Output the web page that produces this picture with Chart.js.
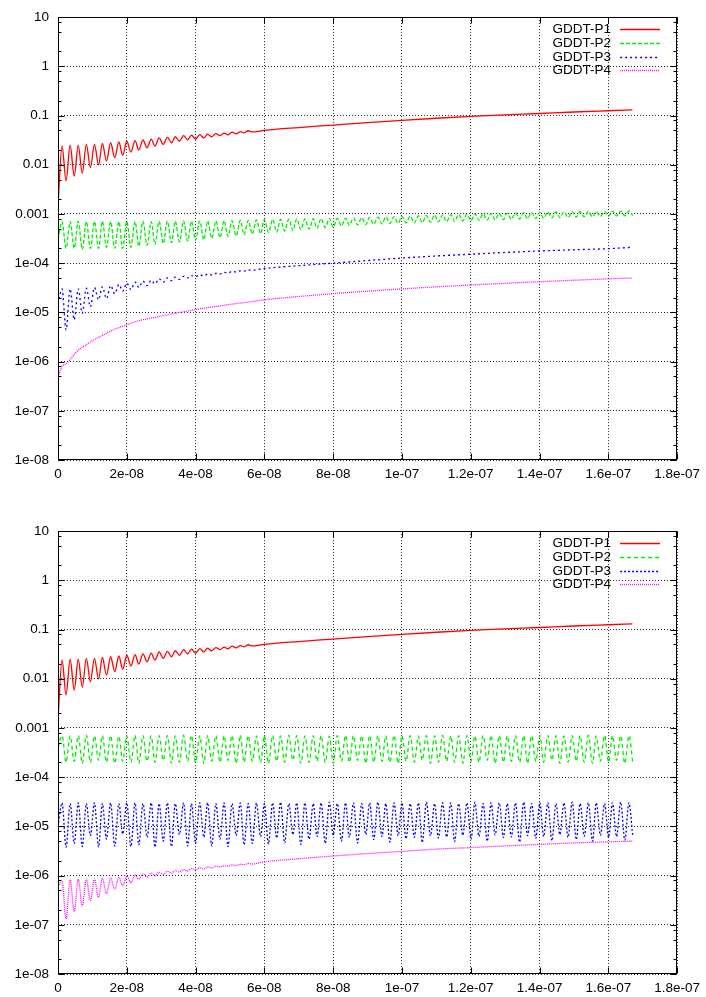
<!DOCTYPE html>
<html>
<head>
<meta charset="utf-8">
<script src="https://cdn.jsdelivr.net/npm/chart.js@4.4.0/dist/chart.umd.min.js"></script>
<style>
    html, body { margin: 0; padding: 0; background: #fff; overflow: hidden; }
    #page { position: relative; width: 706px; height: 997px; overflow: hidden; }
    canvas { position: absolute; left: 0; }
    #topChart { top: 0; }
    #bottomChart { top: 514px; }
</style>
</head>
<body>
<div id="page">
    <canvas id="topChart" width="706" height="490"></canvas>
    <canvas id="bottomChart" width="706" height="490"></canvas>
</div>
<script>
// axis ticks (x in ns)
const xTickValues = [0, 20, 40, 60, 80, 100, 120, 140, 160, 180];
const xTickLabels = ['0', '2e-08', '4e-08', '6e-08', '8e-08', '1e-07', '1.2e-07', '1.4e-07', '1.6e-07', '1.8e-07'];
const yTickValues = [1e-8, 1e-7, 1e-6, 1e-5, 1e-4, 1e-3, 1e-2, 1e-1, 1, 10];
const yTickLabels = ['1e-08', '1e-07', '1e-06', '1e-05', '1e-04', '0.001', '0.01', '0.1', '1', '10'];
const yMinorSteps = [2, 5, 8];
const seriesNames = ['GDDT-P1', 'GDDT-P2', 'GDDT-P3', 'GDDT-P4'];

// times of the read-off extremes (ns), troughs and crests alternate
const tExt = [
    0, 1.18, 2.35, 3.53, 4.71, 5.89, 7.06, 8.24, 9.42, 10.6,
    11.8, 12.9, 14.1, 15.3, 16.5, 17.7, 18.8, 20.0, 21.2, 22.4,
    23.5, 24.7, 25.9, 27.1, 28.2, 29.4, 30.6, 31.8, 33.0, 34.1,
    35.3, 36.5, 37.7, 38.8, 40.0, 41.2, 42.4, 43.5, 44.7, 45.9,
    47.1, 48.3, 49.4, 50.6, 51.8, 53.0, 54.1, 55.3, 56.5, 57.7,
    58.9, 60.0, 61.2, 62.4, 63.6, 64.7, 65.9, 67.1, 68.3, 69.4,
    70.6, 71.8, 73.0, 74.2, 75.3, 76.5, 77.7, 78.9, 80.0, 81.2,
    82.4, 83.6, 84.7, 85.9, 87.1, 88.3, 89.5, 90.6, 91.8, 93.0,
    94.2, 95.3, 96.5, 97.7, 98.9, 100.0, 101.2, 102.4, 103.6, 104.8,
    105.9, 107.1, 108.3, 109.5, 110.6, 111.8, 113.0, 114.2, 115.3, 116.5,
    117.7, 118.9, 120.1, 121.2, 122.4, 123.6, 124.8, 125.9, 127.1, 128.3,
    129.5, 130.6, 131.8, 133.0, 134.2, 135.4, 136.5, 137.7, 138.9, 140.1,
    141.2, 142.4, 143.6, 144.8, 145.9, 147.1, 148.3, 149.5, 150.7, 151.8,
    153.0, 154.2, 155.4, 156.5, 157.7, 158.9, 160.1, 161.2, 162.4, 163.6,
    164.8, 166.0, 167.1,
];
// smooth part of the slow curves (ns)
const tTail = [60, 70, 80, 90, 100, 110, 120, 130, 140, 150, 160, 167];

// GDDT-P1 (same in both plots), units of 1e-3
const p1Head = [
    1.5, 24, 4.7, 25, 5.9, 25, 6.7, 26, 8.7, 26,
    9.9, 27, 11.9, 28, 13.9, 29, 15.5, 30, 18.1, 31,
    19.9, 32, 22.1, 33, 24, 35, 26, 36, 28, 37,
    30, 39, 32, 40, 33, 41, 35, 42, 37, 43,
    39, 44, 40.5, 46, 42.5, 47, 44.5, 49, 46.5,
];
const p1Tail = [50, 57, 64, 72, 80, 88, 96, 103, 110, 118, 125, 130];

// top plot, GDDT-P2, units of 1e-4
const p2Top = [
    3.0,
    7.0, 2.0, 7.0, 2.0, 7.1, 1.9, 7.0, 2.0, 7.0, 2.0,
    7.1, 2.1, 7.0, 2.0, 7.0, 2.0, 7.1, 2.1, 7.0, 2.2,
    7.1, 2.3, 7.0, 2.4, 7.1, 2.5, 7.1, 2.6, 7.1, 2.7,
    7.2, 2.8, 7.1, 2.9, 7.2, 3.0, 7.2, 3.2, 7.2, 3.3,
    7.3, 3.5, 7.3, 3.6, 7.4, 3.8, 7.4, 3.9, 7.6, 4.0,
    7.7, 4.2, 7.7, 4.3, 7.8, 4.5, 7.8, 4.6, 7.9, 4.8,
    7.9, 4.9, 8.0, 5.1, 8.0, 5.3, 8.1, 5.4, 8.1, 5.7,
    8.2, 5.9, 8.3, 6.0, 8.4, 6.1, 8.5, 6.2, 8.6, 6.3,
    8.7, 6.4, 8.8, 6.5, 8.9, 6.6, 9.0, 6.6, 9.2, 6.7,
    9.3, 6.8, 9.5, 6.9, 9.6, 7.0, 9.7, 7.1, 9.8, 7.2,
    9.9, 7.3, 10.0, 7.4, 10.1, 7.5, 10.2, 7.6, 10.3, 7.7,
    10.4, 7.8, 10.5, 7.9, 10.6, 8.0, 10.7, 8.1, 10.8, 8.2,
    10.9, 8.3, 11.0, 8.4, 11.0, 8.5, 11.1, 8.6, 11.1, 8.7,
    11.2, 8.8, 11.2, 8.9, 11.3, 9.0, 11.4, 9.1, 11.4, 9.2,
    11.5, 9.3,
];

// top plot, GDDT-P3, units of 1e-6
const p3TopHead = [
    15, 30, 4.4, 30, 7.1, 30, 9.6, 31, 13, 32,
    18, 33, 19, 35, 24, 37, 27, 39, 29, 41,
    32, 43, 35, 45, 38, 48, 41, 50, 44, 52,
    47, 54, 50, 56, 53, 58, 55, 60, 58, 62,
    60, 65, 63, 68, 66, 70, 69, 73, 72,
];
const p3TopTail = [78, 89, 100, 113, 127, 140, 152, 165, 177, 187, 197, 210];

// top plot, GDDT-P4, units of 1e-7
const p4TopHead = [
    5, 8, 9, 11, 14, 17, 19.5, 22, 25, 28,
    31, 34, 38, 42, 45.5, 49, 52, 56, 60, 64,
    67.5, 71, 74, 77, 79, 83, 86, 89, 93, 96,
    100, 103, 107, 110, 114, 118, 121, 125, 128, 132,
    136, 140, 143, 147, 151, 155, 158, 162, 166,
];
const p4TopTail = [180, 210, 240, 270, 300, 330, 360, 390, 420, 450, 480, 500];

// bottom plot, GDDT-P2, units of 1e-4
const p2Bottom = [
    4.0,
    7.0, 2.0, 6.9, 2.1, 7.0, 1.9, 7.1, 2.0, 6.9, 2.2,
    7.0, 2.0, 7.0, 1.9, 6.8, 2.1, 7.0, 2.0, 7.1, 1.9,
    7.0, 2.1, 6.9, 2.0, 7.0, 2.2, 7.0, 1.9, 6.9, 2.0,
    7.1, 2.1, 7.0, 2.0, 6.9, 1.9, 7.0, 2.1, 7.0, 2.0,
    6.9, 2.2, 7.0, 1.9, 7.1, 2.0, 7.0, 2.1, 6.9, 2.0,
    7.0, 1.9, 7.0, 2.1, 6.9, 2.0, 7.1, 2.2, 7.0, 1.9,
    6.9, 2.0, 7.0, 2.1, 7.0, 2.0, 6.8, 1.9, 7.0, 2.1,
    7.1, 2.0, 7.0, 2.2, 6.9, 1.9, 7.0, 2.0, 7.0, 2.1,
    6.9, 2.0, 7.1, 1.9, 7.0, 2.1, 7.0, 2.0, 6.9, 2.2,
    7.0, 1.9, 7.0, 2.0, 7.1, 2.1, 6.9, 2.0, 7.0, 1.9,
    7.0, 2.1, 6.9, 2.0, 7.0, 2.2, 7.1, 1.9, 7.0, 2.0,
    6.9, 2.1, 7.0, 2.0, 7.0, 1.9, 6.9, 2.1, 7.1, 2.0,
    7.0, 2.2, 7.0, 1.9, 6.9, 2.0, 7.0, 2.1, 7.0, 2.0,
    7.1, 1.9, 6.9, 2.1, 7.0, 2.0, 7.0, 2.2, 6.9, 1.9,
    7.0, 2.0,
];

// bottom plot, GDDT-P3, units of 1e-6
const p3Bottom = [
    10,
    30, 3.8, 29, 4.5, 30, 3.9, 29, 6.5, 30, 3.8,
    29, 5.5, 30, 4.0, 29, 7.0, 30, 3.9, 30, 4.2,
    29, 6.0, 30, 3.8, 29, 5.0, 30, 3.9, 29, 6.8,
    30, 4.0, 29, 4.5, 30, 6.0, 30, 4.0, 29, 5.5,
    30, 3.9, 29, 6.5, 30, 4.2, 29, 4.5, 30, 6.2,
    29, 4.4, 30, 5.8, 31, 4.6, 29, 6.8, 30, 4.3,
    30, 5.5, 29, 6.2, 30, 4.5, 31, 6.6, 29, 5.0,
    30, 6.0, 30, 4.6, 29, 6.8, 30, 5.4, 31, 6.2,
    29, 4.8, 30, 6.5, 30, 5.6, 29, 6.0, 30, 4.7,
    31, 6.4, 29, 5.8, 30, 6.1, 30, 4.9, 29, 6.6,
    30, 5.5, 31, 6.3, 29, 5.0, 30, 6.7, 30, 5.9,
    29, 6.1, 30, 4.8, 31, 6.5, 29, 5.7, 30, 6.2,
    30, 5.1, 29, 6.8, 30, 6.0, 31, 5.4, 29, 6.3,
    30, 5.0, 30, 6.6, 29, 5.9, 30, 6.2, 31, 5.3,
    30, 6.4,
];

// bottom plot, GDDT-P4, units of 1e-7
const p4BottomHead = [
    6, 7.5, 1.32, 8.2, 1.87, 8.4, 2.4, 8.5, 3.1, 8.6,
    3.6, 8.8, 4.3, 9.0, 5.3, 9.3, 6.2, 9.8, 7.2, 10.3,
    8.4, 10.8, 9.3, 11.2, 10.0, 11.7, 10.6, 12.2, 11.2, 12.7,
    11.8, 13.2, 12.4, 13.8, 13.1, 14.3, 13.7, 15.0, 14.4, 15.5,
    15.0, 16.0, 15.5, 16.5, 16.0, 17.0, 16.6, 17.7, 17.2,
];
const p4BottomTail = [19, 22, 25, 28, 31, 34.5, 37, 40, 43, 46, 48.5, 50];

Chart.defaults.font.family = '"Liberation Sans", Arial, Helvetica, sans-serif';
Chart.defaults.font.size = 13.5;
Chart.defaults.color = '#000';

function toPoints(values, times, unit) {
    return values.map((v, i) => ({ x: times[i], y: v * unit }));
}

function headAndTail(head, tail, unit) {
    return toPoints(head, tExt, unit).concat(toPoints(tail, tTail, unit));
}

function makeDataset(index, data, color, dash) {
    return {
        label: seriesNames[index],
        data: data,
        borderColor: color,
        borderDash: dash,
        borderWidth: 1.3,
        pointRadius: 0,
        fill: false,
        cubicInterpolationMode: 'monotone',
    };
}

// gnuplot style frame: box, inward ticks on all sides, key in the top right
const gnuplotFrame = {
    id: 'gnuplotFrame',
    afterDatasetsDraw(chart) {
        const { ctx, chartArea: area, scales } = chart;
        const left = Math.round(area.left) + 0.5;
        const right = Math.round(area.right) - 0.5;
        const top = Math.round(area.top) + 0.5;
        const bottom = Math.round(area.bottom) - 0.5;
        ctx.save();
        ctx.strokeStyle = '#000';
        ctx.lineWidth = 1;
        ctx.setLineDash([]);
        ctx.beginPath();
        yTickValues.forEach((v) => {
            const py = Math.round(scales.y.getPixelForValue(v)) + 0.5;
            ctx.moveTo(left, py); ctx.lineTo(left + 6, py);
            ctx.moveTo(right, py); ctx.lineTo(right - 6, py);
            if (v >= 10) return;
            yMinorSteps.forEach((k) => {
                const my = Math.round(scales.y.getPixelForValue(v * k)) + 0.5;
                ctx.moveTo(left, my); ctx.lineTo(left + 3, my);
                ctx.moveTo(right, my); ctx.lineTo(right - 3, my);
            });
        });
        xTickValues.forEach((v) => {
            const px = Math.round(scales.x.getPixelForValue(v)) + 0.5;
            ctx.moveTo(px, bottom); ctx.lineTo(px, bottom - 6);
            ctx.moveTo(px, top); ctx.lineTo(px, top + 6);
        });
        ctx.stroke();
        ctx.strokeRect(left, top, right - left, bottom - top);

        ctx.font = '13.5px "Liberation Sans", Arial, sans-serif';
        ctx.textAlign = 'right';
        ctx.textBaseline = 'middle';
        chart.data.datasets.forEach((ds, i) => {
            const rowY = Math.round(area.top + 12 + i * 13.7) + 0.5;
            ctx.fillStyle = '#000';
            ctx.fillText(ds.label, area.right - 66, rowY);
            ctx.strokeStyle = ds.borderColor;
            ctx.lineWidth = ds.borderWidth;
            ctx.setLineDash(ds.borderDash || []);
            ctx.beginPath();
            ctx.moveTo(area.right - 57, rowY);
            ctx.lineTo(area.right - 17, rowY);
            ctx.stroke();
        });
        ctx.restore();
    },
};

function buildChart(canvasId, datasets) {
    const ctx = document.getElementById(canvasId).getContext('2d');
    return new Chart(ctx, {
        type: 'line',
        data: { datasets: datasets },
        options: {
            responsive: false,
            animation: false,
            devicePixelRatio: 1,
            layout: { padding: { top: 13, right: 27, left: 0, bottom: 0 } },
            plugins: { legend: { display: false }, tooltip: { enabled: false } },
            scales: {
                x: {
                    type: 'linear',
                    min: 0,
                    max: 180,
                    afterBuildTicks: (scale) => { scale.ticks = xTickValues.map((v) => ({ value: v })); },
                    afterFit: (scale) => { scale.height = 30; },
                    ticks: {
                        callback: (value, index) => xTickLabels[index],
                        padding: 6,
                        maxRotation: 0,
                        autoSkip: false,
                    },
                    grid: { color: 'rgba(0,0,0,0.85)', drawTicks: false },
                    border: { display: false, dash: [1, 2] },
                },
                y: {
                    type: 'logarithmic',
                    min: 1e-8,
                    max: 10,
                    afterBuildTicks: (scale) => { scale.ticks = yTickValues.map((v) => ({ value: v })); },
                    afterFit: (scale) => { scale.width = 58; },
                    ticks: {
                        callback: (value, index) => yTickLabels[index],
                        padding: 9,
                        autoSkip: false,
                    },
                    grid: { color: 'rgba(0,0,0,0.85)', drawTicks: false },
                    border: { display: false, dash: [1, 2] },
                },
            },
        },
        plugins: [gnuplotFrame],
    });
}

const p1Points = headAndTail(p1Head, p1Tail, 1e-3);

buildChart('topChart', [
    makeDataset(0, p1Points, '#ff0000', []),
    makeDataset(1, toPoints(p2Top, tExt, 1e-4), '#00ee00', [4, 2]),
    makeDataset(2, headAndTail(p3TopHead, p3TopTail, 1e-6), '#0000ff', [2, 3]),
    makeDataset(3, headAndTail(p4TopHead, p4TopTail, 1e-7), '#ff00ff', [1, 1]),
]);

buildChart('bottomChart', [
    makeDataset(0, p1Points, '#ff0000', []),
    makeDataset(1, toPoints(p2Bottom, tExt, 1e-4), '#00ee00', [4, 3]),
    makeDataset(2, toPoints(p3Bottom, tExt, 1e-6), '#0000ff', [2, 2]),
    makeDataset(3, headAndTail(p4BottomHead, p4BottomTail, 1e-7), '#ff00ff', [1, 1]),
]);
</script>
</body>
</html>
